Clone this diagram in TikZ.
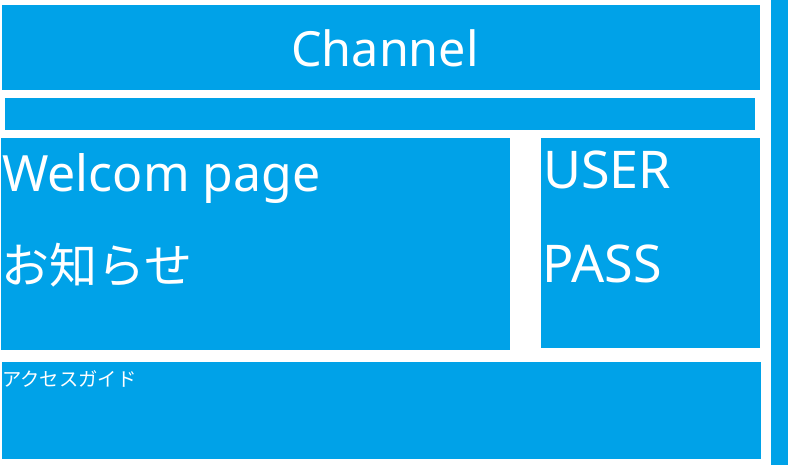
\documentclass[tikz,border=0pt]{standalone}
\usepackage{fontspec}
\setmainfont{Noto Sans}
\newfontfamily\jpfont{Noto Sans CJK JP}
\usetikzlibrary{positioning}
\definecolor{tile}{HTML}{00A2E8}

\begin{document}
\begin{tikzpicture}[x=1pt, y=-1pt,
  panel/.style={fill=tile, draw=none, inner sep=0pt, outer sep=0pt, anchor=north west},
  caption/.style={text=white, inner sep=0pt, anchor=base west}]
  \useasboundingbox (0,0) rectangle (788,465);
  % tiles
  \node[panel, minimum width=758pt, minimum height=85pt] (channel) at (2,5) {};
  \node[panel, minimum width=750pt, minimum height=32pt] (menubar) at (5,98) {};
  \node[panel, minimum width=509pt, minimum height=212pt] (welcome) at (1,138) {};
  \node[panel, minimum width=219pt, minimum height=210pt] (login) at (541,138) {};
  \node[panel, minimum width=759pt, minimum height=97pt] (guide) at (2,362) {};
  \node[panel, minimum width=17pt, minimum height=465pt] (sidebar) at (771,0) {};
  % texts
  \node[caption, anchor=base] (channeltext) at (385,67) {\fontsize{48.5}{56}\selectfont Channel};
  \node[caption] (welcometext) at (2,192) {\fontsize{50}{58}\selectfont Welcom page};
  \node[caption] (newstext) at (1,284) {\fontsize{48}{56}\selectfont\jpfont お知らせ};
  \node[caption] (usertext) at (543,189) {\fontsize{52}{60}\selectfont USER};
  \node[caption] (passtext) at (542.5,283) {\fontsize{52}{60}\selectfont PASS};
  \node[caption] (guidetext) at (2,386) {\fontsize{19.3}{23}\selectfont\jpfont アクセスガイド};
\end{tikzpicture}
\end{document}
